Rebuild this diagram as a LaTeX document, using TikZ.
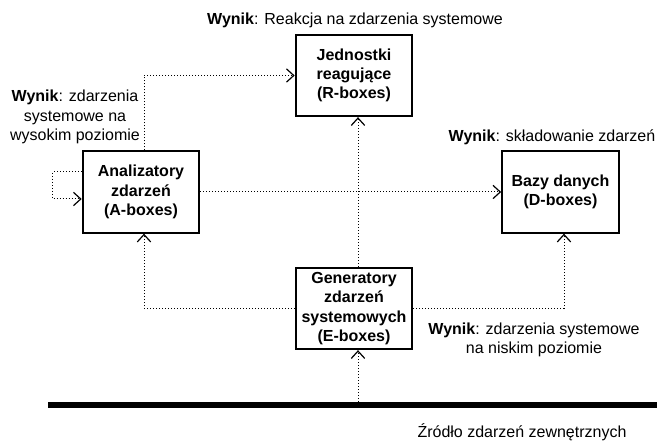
\documentclass[tikz,border=0pt]{standalone}
\usepackage{fontspec}
\setmainfont{Liberation Sans}
\usepackage{tikz}
\usetikzlibrary{arrows.meta, positioning, calc}
\tikzset{
	evbox/.style    ={rectangle, draw=black, line width=1.5pt, minimum width=87.5pt, minimum height=61pt, align=center, font=\fontsize{12}{14.5}\selectfont\bfseries, inner sep=2pt},
	link/.style     ={-{Straight Barb[length=5.5pt, width=10pt, line width=0.9pt]}, line width=0.75pt, dash pattern=on 0.75pt off 1.5pt},
	lbl/.style      ={align=center, inner sep=0pt},
	bus/.style      ={line width=4.5pt},
}

\begin{document}
\begin{tikzpicture}[x=0.75pt, y=-0.75pt, every node/.style={font=\fontsize{12}{14.5}\selectfont}]
	\useasboundingbox (0,0) rectangle (657,441);
	% boxes
	\node[evbox] (R) at (354,75.5) {Jednostki\\reaguj\k{a}ce\\(R-boxes)};
	\node[evbox] (A) at (141,192) {Analizatory\\zdarze\'n\\(A-boxes)};
	\node[evbox] (D) at (560.5,192) {Bazy danych\\(D-boxes)};
	\node[evbox] (E) at (354,308.5) {Generatory\\zdarze\'n\\systemowych\\(E-boxes)};
	% source of external events
	\coordinate (busL) at (48,405);
	\coordinate (busR) at (657,405);
	\coordinate (src) at (358,405);
	\draw[bus] (busL) -- (busR);
	% labels
	\node[lbl] (lblR) at (355,20) {\textbf{Wynik}: Reakcja na zdarzenia systemowe};
	\node[lbl] (lblA) at (75,117) {\textbf{Wynik}: zdarzenia\\systemowe na\\wysokim poziomie};
	\node[lbl] (lblD) at (552,137) {\textbf{Wynik}: sk\l{}adowanie zdarze\'n};
	\node[lbl] (lblE) at (534,340) {\textbf{Wynik}: zdarzenia systemowe\\na niskim poziomie};
	\node[lbl] (lblSrc) at (522,432) {\'Zr\'od\l{}o zdarze\'n zewn\k{e}trznych};
	% connectors
	\draw[link] (src) -- ($(E.south)+(4,0)$);
	\draw[link] ($(E.north)+(4,0)$) -- ($(R.south)+(4,0)$);
	\draw[link] (E.west) -| ($(A.south)+(3,0)$);
	\draw[link] (E.east) -| ($(D.south)+(3.5,0)$);
	\draw[link] (A) -- (D);
	\draw[link] ($(A.north)+(3,0)$) |- (R.west);
	\draw[link] ($(A.west)+(0,-20)$) -- ++(-29,0) |- ($(A.west)+(0,7)$);
\end{tikzpicture}
\end{document}
